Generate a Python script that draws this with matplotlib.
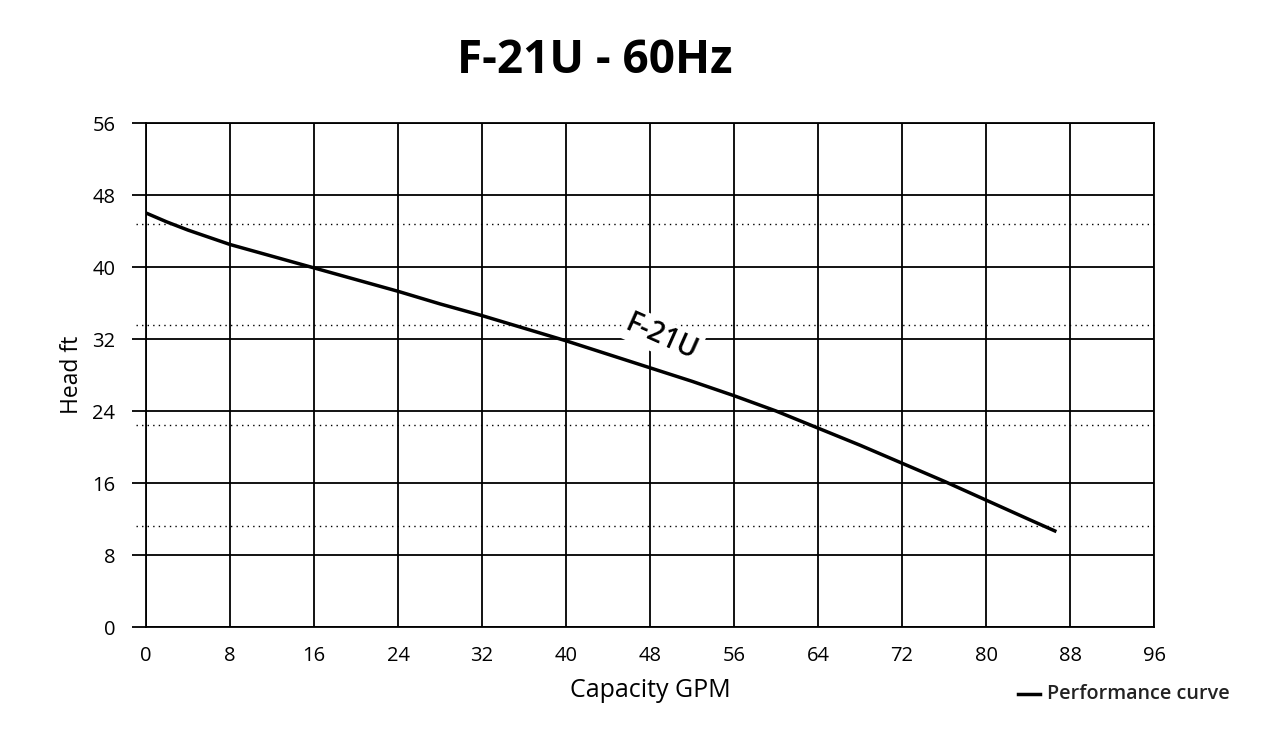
import matplotlib
matplotlib.use("Agg")
import matplotlib.pyplot as plt

# Data
capacity_gpm = [0, 2, 4, 8, 12, 16, 20, 24, 28, 32, 36, 40, 44, 48, 52, 56, 60, 64, 68, 72, 76, 80, 84, 86.7]
head_ft =      [46.0, 45.0, 44.1, 42.5, 41.2, 39.9, 38.6, 37.3, 35.9, 34.6, 33.2, 31.8, 30.3, 28.8, 27.3, 25.7, 24.0, 22.1, 20.2, 18.2, 16.2, 14.1, 12.0, 10.6]
x_ticks = [0, 8, 16, 24, 32, 40, 48, 56, 64, 72, 80, 88, 96]
y_ticks = [0, 8, 16, 24, 32, 40, 48, 56]
dotted_levels = [11.2, 22.4, 33.6, 44.8]
title = "F-21U - 60Hz"
curve_label = "F-21U"
legend_label = "Performance curve"

plt.rcParams['font.family'] = ['Open Sans', 'DejaVu Sans']

fig = plt.figure(figsize=(12.8, 7.51), dpi=100)
ax = fig.add_axes([0.1141, 0.1651, 0.7875, 0.6711])

ax.set_xlim(0, 96)
ax.set_ylim(0, 56)
ax.set_xticks(x_ticks)
ax.set_yticks(y_ticks)
ax.grid(True, color='black', linewidth=1.3)
ax.set_axisbelow(True)
for s in ax.spines.values():
    s.set_linewidth(1.3)
    s.set_color('black')

ax.tick_params(axis='y', length=10, width=1.3, direction='out', labelsize=14.5, pad=12)
ax.tick_params(axis='x', length=0, labelsize=14.5, pad=14)

for lv in dotted_levels:
    ax.axhline(lv, xmin=-0.0099, xmax=1.0, color='black', linestyle=(0, (1, 3)),
               linewidth=1.0, clip_on=False)

ax.plot(capacity_gpm, head_ft, color='black', linewidth=2.5, solid_capstyle='butt', zorder=3)

ax.text(49.1, 32.2, curve_label, rotation=-24, ha='center', va='center', fontsize=20,
        fontweight='semibold', color='black', zorder=4,
        bbox=dict(facecolor='white', edgecolor='none', pad=2))

ax.set_xlabel("Capacity GPM", fontsize=18, labelpad=8)
ax.set_ylabel("Head ft", fontsize=16.5, labelpad=6)

fig.text(0.465, 0.919, title, ha='center', va='center', fontsize=33, fontweight='bold')

fig.lines.append(plt.Line2D([0.7953, 0.8125], [0.0765, 0.0765], transform=fig.transFigure,
                            color='black', linewidth=2.5))
fig.text(0.818, 0.0765, legend_label, ha='left', va='center', fontsize=14.2, fontweight='semibold',
         color='#222222')

fig.savefig("out.png", dpi=100, facecolor='white')
